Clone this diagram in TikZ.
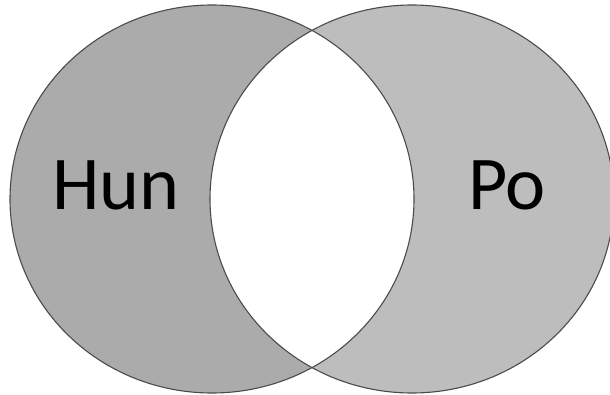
\documentclass[tikz,border=0pt]{standalone}
\usepackage{fontspec}
\setmainfont{Carlito}
\usepackage{tikz}
\definecolor{leftgray}{RGB}{171,171,171}
\definecolor{rightgray}{RGB}{189,189,189}
\definecolor{rimgray}{RGB}{75,75,75}

\begin{document}
\begin{tikzpicture}[x=1pt, y=1pt,
  lobe/.style={x radius=202, y radius=194},
  rim/.style={draw=rimgray, line width=1.1pt},
  setname/.style={font=\fontsize{76}{76}\selectfont, anchor=base, inner sep=0pt}
]
\useasboundingbox (0,0) rectangle (610,394);
\fill[white] (0,0) rectangle (610,394);
\fill[leftgray] (212,195) ellipse [lobe];
\fill[rightgray] (412,195) ellipse [lobe];
% overlap stays white
\begin{scope}
  \clip (212,195) ellipse [lobe];
  \fill[white] (412,195) ellipse [lobe];
\end{scope}
\draw[rim] (212,195) ellipse [lobe];
\draw[rim] (412,195) ellipse [lobe];

\node[setname] (hun) at (116,184) {Hun};
\node[setname] (po)  at (507,184) {Po};
\end{tikzpicture}
\end{document}
